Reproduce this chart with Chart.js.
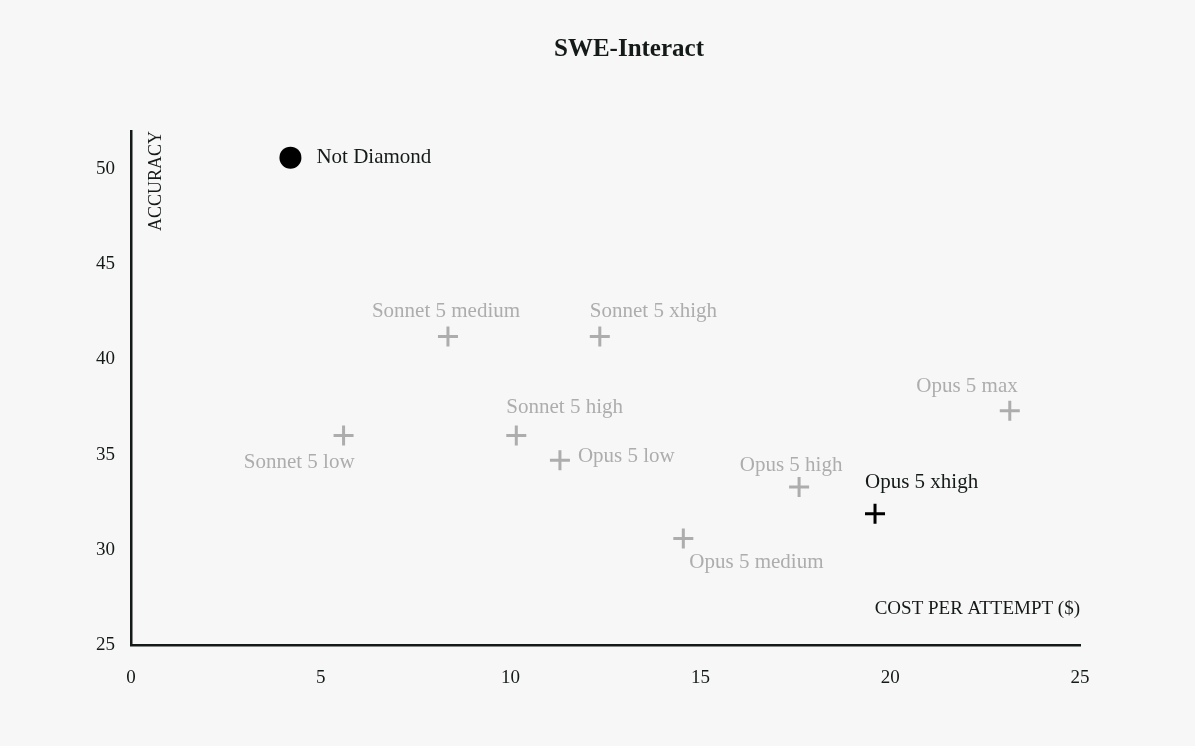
<!DOCTYPE html>
<html>
<head>
<meta charset="utf-8">
<script src="https://cdn.jsdelivr.net/npm/chart.js@4.4.0/dist/chart.umd.min.js"></script>
<style>
  html, body { margin: 0; padding: 0; background: #f7f7f7; }
  #wrap { width: 1195px; height: 746px; }
</style>
</head>
<body>
<div id="wrap"><canvas id="chart" width="1195" height="746"></canvas></div>
<script>
// Daten
const models = ["Not Diamond", "Sonnet 5 low", "Sonnet 5 medium", "Sonnet 5 high", "Sonnet 5 xhigh",
                "Opus 5 low", "Opus 5 medium", "Opus 5 high", "Opus 5 xhigh", "Opus 5 max"];
const costs = [4.2, 5.6, 8.35, 10.15, 12.35, 11.3, 14.55, 17.6, 19.6, 23.15];
const accuracy = [50.6, 36.0, 41.2, 36.0, 41.2, 34.7, 30.6, 33.3, 31.9, 37.3];
const xTicks = [0, 5, 10, 15, 20, 25];
const yTicks = [25, 30, 35, 40, 45, 50];

// Darstellung: welche Punkte schwarz sind, wo die Beschriftung sitzt
const kind = ["router", "grey", "grey", "grey", "grey", "grey", "grey", "grey", "dark", "grey"];
const labelPos = [
  { dx: 26, dy: 0, align: "left" },
  { dx: 11, dy: 27, align: "right" },
  { dx: -2, dy: -25, align: "center" },
  { dx: -10, dy: -28, align: "left" },
  { dx: -10, dy: -25, align: "left" },
  { dx: 18, dy: -4, align: "left" },
  { dx: 6, dy: 24, align: "left" },
  { dx: -8, dy: -22, align: "center" },
  { dx: -10, dy: -31, align: "left" },
  { dx: 8, dy: -24, align: "right" }
];

const GREY = "#adadad";
const DARK = "#141a17";
const FONT = "'Liberation Serif', 'DejaVu Serif', serif";

const points = models.map((m, i) => ({ x: costs[i], y: accuracy[i] }));

// Beschriftungen, Titel und Achsentitel
const labelPlugin = {
  id: "labels",
  afterDatasetsDraw(chart) {
    const ctx = chart.ctx;
    const meta = chart.getDatasetMeta(0);
    ctx.save();
    ctx.textBaseline = "middle";
    ctx.font = "21px " + FONT;
    meta.data.forEach((pt, i) => {
      const p = labelPos[i];
      ctx.fillStyle = kind[i] === "grey" ? GREY : DARK;
      ctx.textAlign = p.align;
      ctx.fillText(models[i], pt.x + p.dx, pt.y + p.dy);
    });

    const area = chart.chartArea;
    ctx.fillStyle = DARK;
    // Titel
    ctx.font = "bold 25px " + FONT;
    ctx.textAlign = "center";
    ctx.fillText("SWE-Interact", 629, 50);
    // x-Achsentitel
    ctx.font = "19px " + FONT;
    ctx.textAlign = "right";
    ctx.fillText("COST PER ATTEMPT ($)", area.right, area.bottom - 36);
    // y-Achsentitel
    ctx.font = "18px " + FONT;
    ctx.translate(area.left + 25, area.top);
    ctx.rotate(-Math.PI / 2);
    ctx.textAlign = "right";
    ctx.fillText("ACCURACY", 0, 0);
    ctx.restore();
  }
};

const bgPlugin = {
  id: "bg",
  beforeDraw(chart) {
    const ctx = chart.ctx;
    ctx.save();
    ctx.fillStyle = "#f7f7f7";
    ctx.fillRect(0, 0, chart.width, chart.height);
    ctx.restore();
  }
};

new Chart(document.getElementById("chart").getContext("2d"), {
  type: "scatter",
  data: {
    datasets: [{
      data: points,
      pointStyle: kind.map(k => k === "router" ? "circle" : "cross"),
      pointRadius: kind.map(k => k === "router" ? 11 : 10),
      pointHoverRadius: kind.map(k => k === "router" ? 11 : 10),
      borderWidth: kind.map(k => k === "router" ? 0 : 3),
      borderColor: kind.map(k => k === "grey" ? GREY : "#000"),
      backgroundColor: kind.map(k => k === "grey" ? GREY : "#000")
    }]
  },
  options: {
    responsive: false,
    animation: false,
    layout: { padding: { top: 131, right: 115, left: 0, bottom: 0 } },
    plugins: { legend: { display: false }, tooltip: { enabled: false } },
    scales: {
      x: {
        type: "linear",
        min: 0, max: 25,
        afterBuildTicks(scale) { scale.ticks = xTicks.map(v => ({ value: v })); },
        afterFit(scale) { scale.height = 101; },
        grid: { display: false },
        border: { display: true, color: DARK, width: 2.5 },
        ticks: { color: DARK, padding: 14, font: { family: FONT, size: 19 } }
      },
      y: {
        type: "linear",
        min: 25, max: 52,
        afterBuildTicks(scale) { scale.ticks = yTicks.map(v => ({ value: v })); },
        afterFit(scale) { scale.width = 131; },
        grid: { display: false },
        border: { display: true, color: DARK, width: 2.5 },
        ticks: { color: DARK, padding: 8, font: { family: FONT, size: 19 } }
      }
    }
  },
  plugins: [bgPlugin, labelPlugin]
});
</script>
</body>
</html>
